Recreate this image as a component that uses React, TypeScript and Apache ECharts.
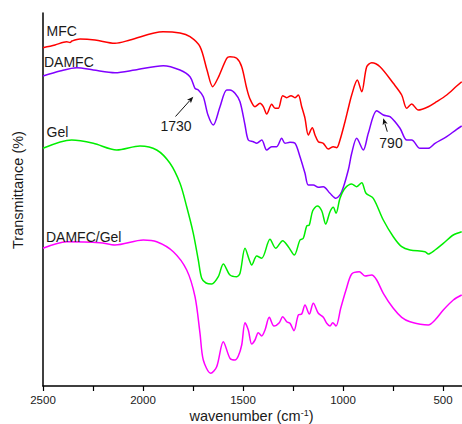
import React, { useEffect, useRef } from "react";
import * as echarts from "echarts";

// wavenumber (cm-1), transmittance (arbitrary, offset per curve)
const mfc: [number, number][] = [
  [2500, 338.3], [2440, 341], [2381.5, 344.3], [2365, 343.5], [2355, 345], [2315, 347], [2240, 346],
  [2140, 342.7], [2065, 346], [1900, 354.3], [1815, 353], [1765, 349.3], [1715, 339.3],
  [1680, 316], [1651.5, 299.3], [1625, 308], [1581.5, 327.7], [1565, 329.3], [1531.5, 327.7],
  [1506.5, 319.3], [1481.5, 297.7], [1465, 287], [1440, 279.3], [1415, 282.7], [1398.5, 279.3],
  [1381.5, 272], [1356.5, 281.7], [1340, 277.7], [1323.5, 277.7], [1301.5, 290.3], [1281.5, 288.3],
  [1260, 290.3], [1240, 288.3], [1223.5, 291], [1206.5, 279.3], [1190, 267.7], [1173.5, 251],
  [1153.5, 258.3], [1140, 251], [1123.5, 244.3], [1098.5, 242.7], [1073.5, 237], [1048.5, 239.3],
  [1031.5, 238.3], [1015, 246], [990, 264.3], [973.5, 277.7], [956.5, 291], [928.5, 306],
  [906.5, 294.3], [881.5, 319.3], [856.5, 323.3], [815, 319.3], [748.5, 302.7], [706.5, 291],
  [681.5, 277.7], [656.5, 282], [623.5, 276], [573.5, 279.3], [531.5, 284.3], [481.5, 291],
  [431.5, 300], [406.5, 304.3],
];

const damfc: [number, number][] = [
  [2500, 310], [2415, 315], [2331.5, 318.3], [2248.5, 316], [2140, 313.3], [2040, 316],
  [1898.5, 320.3], [1815, 316], [1765, 309.3], [1740, 297.7], [1723.5, 296], [1698.5, 289.3],
  [1675, 271], [1648.5, 261], [1615, 279.3], [1581.5, 296], [1565, 296], [1540, 292.7],
  [1515, 284.3], [1490, 261], [1473.5, 246], [1448.5, 244.3], [1431.5, 242.7], [1406.5, 246],
  [1381.5, 236], [1356.5, 239.3], [1331.5, 239.3], [1306.5, 247.7], [1290, 242.7], [1265, 243.7],
  [1240, 242.7], [1215, 229.3], [1190, 212.7], [1173.5, 201], [1148.5, 201], [1123.5, 198.7],
  [1098.5, 199.3], [1065, 192.7], [1035, 187.7], [1006.5, 194.3], [973.5, 216], [956.5, 232.7],
  [931.5, 247.7], [898.5, 236], [873.5, 252.7], [831.5, 275.3], [798.5, 271], [765, 269.3],
  [715, 257.7], [681.5, 246], [656.5, 246], [615, 237.7], [573.5, 237.7], [540, 242.7],
  [481.5, 249.3], [431.5, 256.7], [406.5, 260],
];

const gel: [number, number][] = [
  [2500, 237.7], [2356.5, 246], [2248.5, 242.7], [2131.5, 236], [2015, 240], [1931.5, 236],
  [1865, 222.7], [1815, 202.7], [1781.5, 179.3], [1748.5, 152.7], [1723.5, 126], [1706.5, 107.7],
  [1685, 103], [1656.5, 102], [1623.5, 109.3], [1598.5, 122], [1565, 111], [1531.5, 109.3],
  [1515, 112.7], [1490, 137.7], [1468.5, 126], [1456.5, 121], [1431.5, 130], [1406.5, 127.7],
  [1365, 146.7], [1336.5, 137.7], [1301.5, 145.3], [1273.5, 139.3], [1243.5, 131], [1215, 146],
  [1198.5, 147.7], [1181.5, 160], [1168.5, 161], [1151.5, 175.3], [1128.5, 180], [1106.5, 175.3],
  [1086.5, 162], [1065, 174.3], [1048.5, 178.7], [1035, 172.7], [1015, 187.7], [990, 197.7],
  [956.5, 202], [931.5, 199.3], [906.5, 203.3], [885, 192.7], [848.5, 187.7], [798.5, 166],
  [748.5, 149.3], [706.5, 139.3], [665, 136], [590, 134.3], [573.5, 132], [540, 136],
  [498.5, 142.7], [448.5, 151], [406.5, 154.3],
];

const damfcGel: [number, number][] = [
  [2500, 137.7], [2381.5, 144.3], [2215, 143.3], [2140, 141], [1998.5, 146], [1931.5, 144.3],
  [1848.5, 134.3], [1781.5, 116], [1740, 89.3], [1715, 52.7], [1698.5, 26], [1661.5, 12.7],
  [1631.5, 19.3], [1598.5, 44.3], [1565, 27.7], [1540, 26], [1523.5, 30], [1506.5, 41],
  [1490, 63.3], [1473.5, 56], [1456.5, 42], [1440, 46], [1423.5, 53.3], [1406.5, 50],
  [1390, 56], [1368.5, 68.7], [1345, 60], [1318.5, 63.3], [1301.5, 69.3], [1281.5, 64.3],
  [1265, 62.7], [1245, 55.3], [1223.5, 71], [1206.5, 72], [1190, 81], [1168.5, 72],
  [1148.5, 82.7], [1123.5, 72.7], [1098.5, 68.7], [1081.5, 62.7], [1065, 60], [1051.5, 63.3],
  [1035, 60], [1011.5, 77.7], [985, 96], [956.5, 112], [918.5, 114.3], [890, 110],
  [856.5, 111], [831.5, 106], [798.5, 92.7], [748.5, 77.7], [706.5, 68.7], [665, 64.3],
  [573.5, 61], [540, 66], [498.5, 76], [448.5, 86], [406.5, 91],
];

const tickValues = [500, 750, 1000, 1250, 1500, 1750, 2000, 2250, 2500];
const labelValues = [500, 1000, 1500, 2000, 2500];
const seriesNames = ["MFC", "DAMFC", "Gel", "DAMFC/Gel"];
const seriesColors = ["#ff0000", "#8000ff", "#00ee00", "#ff00ff"];

const FONT = "'Liberation Sans', Arial, sans-serif";

export default function App() {
  const ref = useRef<HTMLDivElement>(null);
  useEffect(() => {
    if (!ref.current) return;
    const chart = echarts.init(ref.current, undefined, { renderer: "svg" });
    const datasets = [mfc, damfc, gel, damfcGel];
    const txt = (text: string, x: number, y: number, extra: any = {}) => ({
      type: "text",
      x,
      y,
      z: 10,
      style: {
        text,
        fontSize: 14,
        fontFamily: FONT,
        fill: "#1a1a1a",
        textAlign: "left",
        textVerticalAlign: "middle",
        ...extra,
      },
    });
    const arrow = (x1: number, y1: number, x2: number, y2: number) => {
      const dx = x2 - x1;
      const dy = y2 - y1;
      const len = Math.sqrt(dx * dx + dy * dy);
      const ux = dx / len;
      const uy = dy / len;
      const hl = 6.5;
      const hw = 2.6;
      const bx = x2 - ux * hl;
      const by = y2 - uy * hl;
      return [
        {
          type: "line",
          z: 10,
          shape: { x1, y1, x2: bx + ux, y2: by + uy },
          style: { stroke: "#111", lineWidth: 1 },
        },
        {
          type: "polygon",
          z: 10,
          shape: {
            points: [
              [x2, y2],
              [bx - uy * hw, by + ux * hw],
              [bx + ux * 1.5, by + uy * 1.5],
              [bx + uy * hw, by - ux * hw],
            ],
          },
          style: { fill: "#111" },
        },
      ];
    };
    chart.setOption({
      animation: false,
      backgroundColor: "#ffffff",
      grid: { left: 43, right: 0, top: 13, bottom: 38 },
      xAxis: {
        type: "value",
        inverse: true,
        min: 405,
        max: 2500,
        axisLine: { show: true, lineStyle: { color: "#000", width: 1.5 } },
        axisTick: {
          show: true,
          inside: false,
          length: 5,
          customValues: tickValues,
          lineStyle: { color: "#000", width: 1.2 },
        },
        axisLabel: {
          customValues: labelValues,
          formatter: (v: number) => String(v),
          fontSize: 11.5,
          fontFamily: FONT,
          color: "#1a1a1a",
          margin: 8,
        },
        splitLine: { show: false },
      },
      yAxis: {
        type: "value",
        min: 0,
        max: 373,
        axisLine: { show: true, lineStyle: { color: "#000", width: 1.5 } },
        axisTick: { show: false },
        axisLabel: { show: false },
        splitLine: { show: false },
      },
      series: datasets.map((d, i) => ({
        name: seriesNames[i],
        type: "line",
        data: d,
        showSymbol: false,
        smooth: 0.3,
        lineStyle: { color: seriesColors[i], width: 1.5 },
        itemStyle: { color: seriesColors[i] },
      })),
      graphic: [
        txt("MFC", 46.5, 31),
        txt("DAMFC", 44, 61.5),
        txt("Gel", 46.5, 131.5),
        txt("DAMFC/Gel", 46, 237),
        txt("1730", 176, 125.5, { textAlign: "center" }),
        txt("790", 391, 142.5, { textAlign: "center" }),
        ...arrow(175.5, 116.5, 193.3, 96.7),
        ...arrow(387.3, 131.7, 383.3, 118.3),
        {
          type: "text",
          x: 17.5,
          y: 190,
          rotation: Math.PI / 2,
          style: {
            text: "Transmittance (%)",
            fontSize: 14.5,
            fontFamily: FONT,
            fill: "#1a1a1a",
            textAlign: "center",
            textVerticalAlign: "middle",
          },
        },
        {
          type: "text",
          x: 251.5,
          y: 416,
          style: {
            text: "{a|wavenumber (cm}{b|-1}{a|)}",
            fontFamily: FONT,
            fill: "#1a1a1a",
            textAlign: "center",
            textVerticalAlign: "middle",
            rich: {
              a: { fontSize: 14.5, fontFamily: FONT, fill: "#1a1a1a", lineHeight: 15, verticalAlign: "bottom" },
              b: { fontSize: 9, fontFamily: FONT, fill: "#1a1a1a", lineHeight: 15, verticalAlign: "top" },
            },
          },
        },
      ],
    });
    return () => chart.dispose();
  }, []);
  return (
    <div
      ref={ref}
      style={{ position: "absolute", left: 0, top: 0, width: 462, height: 424 }}
    />
  );
}
